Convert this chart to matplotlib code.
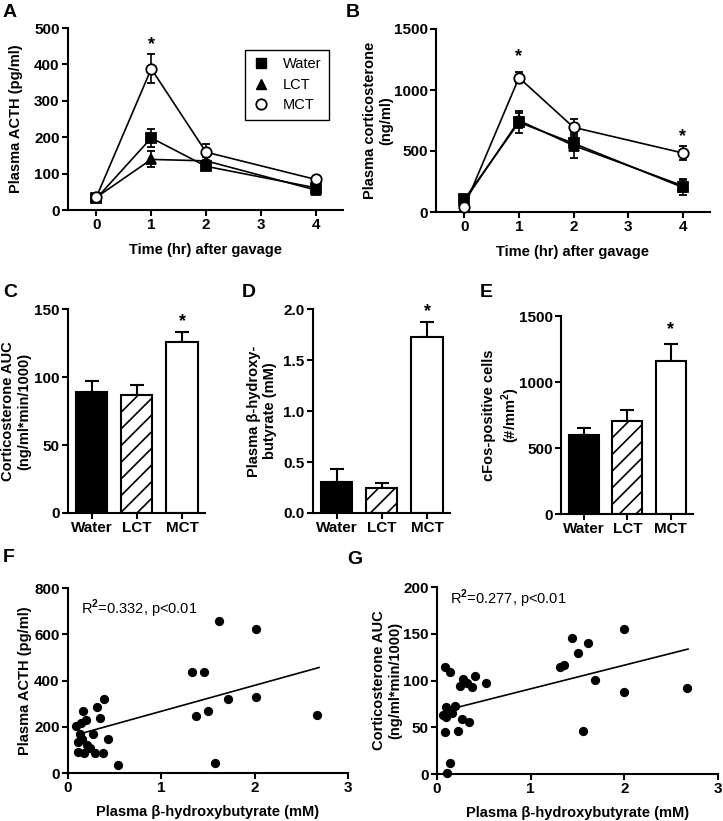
import matplotlib
matplotlib.use('Agg')
import matplotlib.pyplot as plt
from matplotlib.lines import Line2D
import numpy as np

plt.rcParams['font.family'] = ['Liberation Sans', 'DejaVu Sans']
plt.rcParams['font.weight'] = 'bold'
plt.rcParams['axes.labelweight'] = 'bold'
plt.rcParams['hatch.linewidth'] = 1.2
plt.rcParams['mathtext.fontset'] = 'custom'
plt.rcParams['mathtext.rm'] = 'Liberation Sans'
plt.rcParams['mathtext.bf'] = 'Liberation Sans:bold'

# time course (panels A, B)
hours = [0, 1, 2, 4]
acth_water = [32, 198, 120, 61]
acth_water_err = [5, 25, 8, 6]
acth_lct = [35, 139, 135, 55]
acth_lct_err = [5, 22, 10, 6]
acth_mct = [36, 388, 159, 84]
acth_mct_err = [5, 40, 22, 6]

cort_water = [104, 735, 563, 202]
cort_water_err = [20, 90, 55, 65]
cort_lct = [90, 750, 545, 215]
cort_lct_err = [20, 60, 100, 50]
cort_mct = [44, 1101, 694, 484]
cort_mct_err = [15, 45, 65, 60]

# bar panels (C, D, E)
groups = ['Water', 'LCT', 'MCT']
auc_vals = [89, 87, 126]
auc_err = [8, 7, 7]
bhb_vals = [0.30, 0.25, 1.73]
bhb_err = [0.13, 0.04, 0.14]
cfos_vals = [600, 705, 1160]
cfos_err = [55, 85, 130]

# scatter panels (F, G)
f_x = [0.09, 0.11, 0.11, 0.13, 0.136, 0.147, 0.16, 0.17, 0.19, 0.20, 0.236, 0.27, 0.29, 0.31, 0.34,
       0.37, 0.39, 0.43, 0.54, 1.33, 1.37, 1.46, 1.50, 1.57, 1.62, 1.71, 2.01, 2.01, 2.67]
f_y = [203, 134, 91, 170, 217, 149, 270, 87, 230, 120, 106, 167, 87, 284, 237,
       87, 320, 149, 36, 437, 245, 435, 269, 43, 658, 321, 624, 327, 249]
f_fit = (112.0, 155.0)   # slope, intercept
f_fit_range = (0.1, 2.69)

g_x = [0.085, 0.139, 0.28, 0.41, 0.52, 0.245, 0.32, 0.37, 0.10, 0.19, 0.067, 0.12, 0.157, 0.10, 0.27,
       0.34, 0.085, 0.22, 0.139, 0.11, 1.31, 1.356, 1.445, 1.50, 1.61, 1.555, 1.69, 2.0, 2.0, 2.67]
g_y = [114, 109, 101.6, 105, 97.6, 94.4, 97, 92.7, 72, 72.7, 63, 68, 65, 61, 58.5,
       56, 44.6, 46, 11.4, 0.7, 114, 117, 145, 129, 140, 46, 100.7, 155, 88, 92]
g_fit = (25.3, 65.8)
g_fit_range = (0.2, 2.68)

W, H = 723, 821
fig = plt.figure(figsize=(W / 100, H / 100), dpi=100)


def add_ax(left, top, right, bottom):
    return fig.add_axes([left / W, 1 - bottom / H, (right - left) / W, (bottom - top) / H])


def style(ax, label_x):
    for s in ['top', 'right']:
        ax.spines[s].set_visible(False)
    for s in ['left', 'bottom']:
        ax.spines[s].set_linewidth(1.5)
    ax.tick_params(direction='out', length=4, width=1.5, labelsize=11, pad=2)
    for lab in ax.get_xticklabels() + ax.get_yticklabels():
        lab.set_fontweight('bold')
    ax.yaxis.set_label_coords(label_x, 0.5)


def time_course(ax, series, ymax, yticks, ylabel, label_x):
    for vals, errs, mk, mfc in series:
        ax.errorbar(hours, vals, yerr=errs, color='k', marker=mk, mfc=mfc, mec='k', mew=1.3,
                    ms=7.5, lw=1.2, capsize=3, capthick=1.2, elinewidth=1.2, clip_on=False, zorder=3)
    ax.set_xlim(-0.52, 4.5)
    ax.set_ylim(0, ymax)
    ax.set_xticks([0, 1, 2, 3, 4])
    ax.set_yticks(yticks)
    ax.set_xlabel('Time (hr) after gavage', fontsize=10.5, labelpad=8)
    ax.set_ylabel(ylabel, fontsize=10.5)
    style(ax, label_x)


def bars(ax, vals, errs, ymax, yticks, ylabel, label_x, fmt=None):
    x = np.arange(len(groups))
    ax.bar(x, vals, width=0.69, color=['black', 'white', 'white'], edgecolor='k',
           linewidth=1.5, hatch=['', '//', ''], zorder=2)
    ax.errorbar(x, vals, yerr=[np.zeros(len(vals)), errs], fmt='none', ecolor='k',
                elinewidth=1.5, capsize=5, capthick=1.5, zorder=1)
    ax.set_xlim(-0.53, 2.51)
    ax.set_ylim(0, ymax)
    ax.set_xticks(x)
    ax.set_xticklabels(groups)
    ax.set_yticks(yticks)
    if fmt:
        ax.set_yticklabels([fmt % t for t in yticks])
    ax.set_ylabel(ylabel, fontsize=10.5)
    style(ax, label_x)


def scatter(ax, xs, ys, fit, fit_range, ymax, yticks, ylabel, label_x, note, note_y):
    ax.scatter(xs, ys, s=32, color='k', zorder=3, clip_on=False)
    xx = np.array(fit_range)
    ax.plot(xx, fit[0] * xx + fit[1], color='k', lw=1.2)
    ax.set_xlim(0, 3)
    ax.set_ylim(0, ymax)
    ax.set_xticks([0, 1, 2, 3])
    ax.set_yticks(yticks)
    ax.set_xlabel('Plasma β-hydroxybutyrate (mM)', fontsize=10.5, labelpad=7)
    ax.set_ylabel(ylabel, fontsize=10.5)
    ax.text(0.14, note_y, note, fontsize=10.5, fontweight='normal', va='center')
    style(ax, label_x)


# A
axA = add_ax(68, 28, 343, 210)
time_course(axA, [(acth_water, acth_water_err, 's', 'k'),
                  (acth_lct, acth_lct_err, '^', 'k'),
                  (acth_mct, acth_mct_err, 'o', 'white')],
            500, [0, 100, 200, 300, 400, 500], 'Plasma ACTH (pg/ml)', -0.164)
axA.text(1, 455, '*', ha='center', va='center', fontsize=13)
handles = [Line2D([], [], color='k', marker='s', ls='none', ms=7),
           Line2D([], [], color='k', marker='^', ls='none', ms=7),
           Line2D([], [], color='k', marker='o', mfc='white', mew=1.3, ls='none', ms=7.5)]
leg = axA.legend(handles, ['Water', 'LCT', 'MCT'], loc='upper left', bbox_to_anchor=(0.644, 0.879),
                 borderaxespad=0, fancybox=False, edgecolor='k', framealpha=1,
                 prop={'size': 10.5, 'weight': 'normal'}, handletextpad=0.9, labelspacing=0.45,
                 borderpad=0.5, handlelength=1.2)
leg.get_frame().set_linewidth(1.0)

# B
axB = add_ax(436, 29, 710, 212)
time_course(axB, [(cort_water, cort_water_err, 's', 'k'),
                  (cort_lct, cort_lct_err, '^', 'k'),
                  (cort_mct, cort_mct_err, 'o', 'white')],
            1500, [0, 500, 1000, 1500], 'Plasma corticosterone\n(ng/ml)', -0.157)
axB.text(1, 1270, '*', ha='center', va='center', fontsize=13)
axB.text(4, 620, '*', ha='center', va='center', fontsize=13)

# C
axC = add_ax(68, 309, 205, 513)
bars(axC, auc_vals, auc_err, 150, [0, 50, 100, 150], 'Corticosterone AUC\n(ng/ml*min/1000)', -0.27)
axC.text(2, 141, '*', ha='center', va='center', fontsize=13)

# D
axD = add_ax(313, 309, 450, 513)
bars(axD, bhb_vals, bhb_err, 2.0, [0, 0.5, 1.0, 1.5, 2.0], 'Plasma β-hydroxy-\nbutyrate (mM)', -0.263,
     '%.1f')
axD.text(2, 1.97, '*', ha='center', va='center', fontsize=13)

# E
axE = add_ax(561, 316, 693, 514)
bars(axE, cfos_vals, cfos_err, 1500, [0, 500, 1000, 1500], 'cFos-positive cells\n(#/mm$^\\mathbf{2}$)',
     -0.295)
axE.text(2, 1395, '*', ha='center', va='center', fontsize=13)

# F
axF = add_ax(68, 588, 348, 773)
scatter(axF, f_x, f_y, f_fit, f_fit_range, 800, [0, 200, 400, 600, 800], 'Plasma ACTH (pg/ml)', -0.129,
        'R$^\\mathrm{2}$=0.332, p<0.01', 711)

# G
axG = add_ax(437, 587, 718, 774)
scatter(axG, g_x, g_y, g_fit, g_fit_range, 200, [0, 50, 100, 150, 200],
        'Corticosterone AUC\n(ng/ml*min/1000)', -0.125, 'R$^\\mathrm{2}$=0.277, p<0.01', 187)

for letter, x, y in [('A', 3, 4), ('B', 346, 4), ('C', 3, 284), ('D', 242, 284),
                     ('E', 480, 284), ('F', 3, 549), ('G', 347, 551)]:
    fig.text(x / W, 1 - y / H, letter, fontsize=14, fontweight='bold', va='top', ha='left')

fig.savefig('out.png', dpi=100)
